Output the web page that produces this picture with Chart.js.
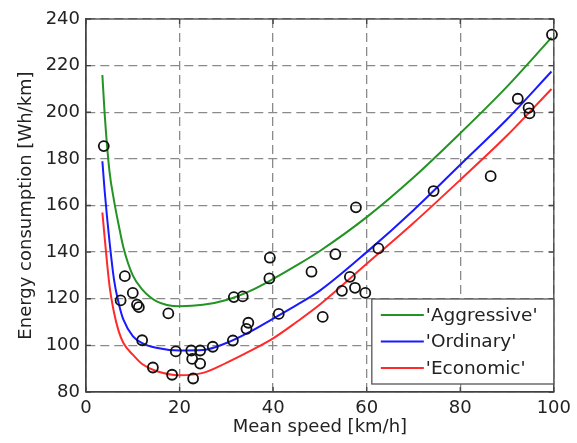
<!DOCTYPE html>
<html>
<head>
<meta charset="utf-8">
<script src="https://cdn.jsdelivr.net/npm/chart.js@4/dist/chart.umd.min.js"></script>
<style>
  html, body { margin: 0; padding: 0; background: #fff; }
  canvas { display: block; }
</style>
</head>
<body>
<canvas id="chart" width="577" height="443"></canvas>
<script>
// measured trips: mean speed [km/h] and energy consumption [Wh/km]
var tripSpeed  = [3.8, 8.3, 7.4, 10, 10.9, 11.3, 12, 14.3, 17.6, 18.4, 19.2, 22.5, 22.7, 22.9, 24.4, 24.4, 27.1, 31.4, 31.6, 33.5, 34.3, 34.7, 39.3, 39.2, 41.2, 48.2, 50.6, 53.3, 57.7, 56.4, 62.5, 54.7, 57.5, 59.7, 74.3, 86.5, 92.3, 94.6, 94.8, 99.6];
var tripEnergy = [185.5, 129.7, 119.3, 122.5, 117.5, 116.4, 102.2, 90.5, 113.7, 87.4, 97.4, 97.8, 94.2, 85.8, 97.8, 92.2, 99.4, 102.1, 120.7, 121, 107.1, 109.7, 137.6, 128.7, 113.5, 131.6, 112.2, 139.1, 159.2, 129.4, 141.6, 123.4, 124.7, 122.5, 166.2, 172.6, 205.8, 201.9, 199.5, 233.3];

// model curves
var curveSpeed = [3.5, 4, 5, 6, 7, 8, 10, 12, 15, 20, 25, 30, 35, 40, 45, 50, 60, 70, 80, 90, 99.5];
var aggressive = [216, 199, 175, 162, 151.5, 142, 130, 124, 119, 116.8, 117.4, 119.5, 123.3, 128.5, 134.3, 140.5, 155, 172, 191, 211, 232];
var ordinary   = [179, 166, 145, 128, 118, 111, 104, 101, 99, 97.8, 98, 101, 105.8, 111.5, 117.3, 123.5, 140, 158, 177.5, 197, 217.5];
var economic   = [157, 146, 126, 114, 106, 101, 96, 92, 89, 87.2, 88.2, 92.5, 97.5, 103, 110, 117.5, 135, 152.5, 171, 190, 210];

var xTicks = [0, 20, 40, 60, 80, 100];
var yTicks = [80, 100, 120, 140, 160, 180, 200, 220, 240];

var FONT = "'DejaVu Sans', sans-serif";
var TEXT = '#222';

function pairs(xs, ys){
	var out = [];
	for (var i = 0; i < xs.length; i++) out.push({x: xs[i], y: ys[i]});
	return out;
}

function curve(label, ys, color){
	return {
		label: label,
		data: pairs(curveSpeed, ys),
		showLine: true,
		borderColor: color,
		borderWidth: 2,
		pointRadius: 0,
		cubicInterpolationMode: 'monotone',
		fill: false,
		order: 2
	};
}

// frame, inward tick marks and the boxed legend inside the axes
var matlabBits = {
	id: 'matlabBits',
	afterDatasetsDraw: function(chart){
		var ctx = chart.ctx, a = chart.chartArea;
		var xs = chart.scales.x, ys = chart.scales.y;
		ctx.save();
		ctx.strokeStyle = '#444';
		ctx.lineWidth = 1.3;
		ctx.strokeRect(a.left, a.top, a.right - a.left, a.bottom - a.top);
		ctx.beginPath();
		xTicks.forEach(function(v){
			var px = xs.getPixelForValue(v);
			ctx.moveTo(px, a.bottom); ctx.lineTo(px, a.bottom - 5);
			ctx.moveTo(px, a.top); ctx.lineTo(px, a.top + 5);
		});
		yTicks.forEach(function(v){
			var py = ys.getPixelForValue(v);
			ctx.moveTo(a.left, py); ctx.lineTo(a.left + 5, py);
			ctx.moveTo(a.right, py); ctx.lineTo(a.right - 5, py);
		});
		ctx.stroke();

		// legend
		var bx = a.right - 182, by = a.bottom - 93, bw = 182, bh = 85;
		ctx.fillStyle = '#fff';
		ctx.fillRect(bx, by, bw, bh);
		ctx.strokeStyle = '#555';
		ctx.lineWidth = 1.3;
		ctx.strokeRect(bx, by, bw, bh);
		var items = chart.data.datasets.filter(function(d){ return d.showLine; });
		ctx.font = '18.5px ' + FONT;
		ctx.textBaseline = 'middle';
		ctx.textAlign = 'left';
		items.forEach(function(d, i){
			var y = by + 16 + i * 26.5;
			ctx.strokeStyle = d.borderColor;
			ctx.lineWidth = 2;
			ctx.beginPath();
			ctx.moveTo(bx + 9, y); ctx.lineTo(bx + 52, y);
			ctx.stroke();
			ctx.fillStyle = TEXT;
			ctx.fillText("'" + d.label + "'", bx + 54, y + 1);
		});
		ctx.restore();
	}
};

new Chart(document.getElementById('chart'), {
	type: 'scatter',
	data: {
		datasets: [
			curve('Aggressive', aggressive, '#239323'),
			curve('Ordinary', ordinary, '#1a1aff'),
			curve('Economic', economic, '#ff2a2a'),
			{
				label: 'Measured',
				data: pairs(tripSpeed, tripEnergy),
				pointStyle: 'circle',
				pointRadius: 5,
				pointBorderWidth: 1.8,
				pointBorderColor: '#111',
				pointBackgroundColor: 'rgba(0,0,0,0)',
				showLine: false,
				clip: false,
				order: 1
			}
		]
	},
	options: {
		responsive: false,
		animation: false,
		layout: { padding: { top: 19, right: 19, left: 0, bottom: 0 } },
		plugins: { legend: { display: false }, tooltip: { enabled: false } },
		scales: {
			x: {
				type: 'linear', min: 0, max: 100,
				afterBuildTicks: function(s){ s.ticks = xTicks.map(function(v){ return {value: v}; }); },
				afterFit: function(s){ s.height = 51; },
				ticks: { color: TEXT, font: { family: FONT, size: 18 }, padding: 6, maxRotation: 0 },
				grid: { color: '#8a8a8a', lineWidth: 1.3, drawTicks: false },
				border: { display: true, color: '#444', width: 1.3, dash: [9, 5] },
				title: { display: true, text: 'Mean speed [km/h]', color: TEXT, font: { family: FONT, size: 18 }, padding: { top: 0, bottom: 5 } }
			},
			y: {
				type: 'linear', min: 80, max: 240,
				afterBuildTicks: function(s){ s.ticks = yTicks.map(function(v){ return {value: v}; }); },
				afterFit: function(s){ s.width = 86; },
				ticks: { color: TEXT, font: { family: FONT, size: 18 }, padding: 6 },
				grid: { color: '#8a8a8a', lineWidth: 1.3, drawTicks: false },
				border: { display: true, color: '#444', width: 1.3, dash: [9, 5] },
				title: { display: true, text: 'Energy consumption [Wh/km]', color: TEXT, font: { family: FONT, size: 18 }, padding: { top: 16, bottom: 0 } }
			}
		}
	},
	plugins: [matlabBits]
});
</script>
</body>
</html>
